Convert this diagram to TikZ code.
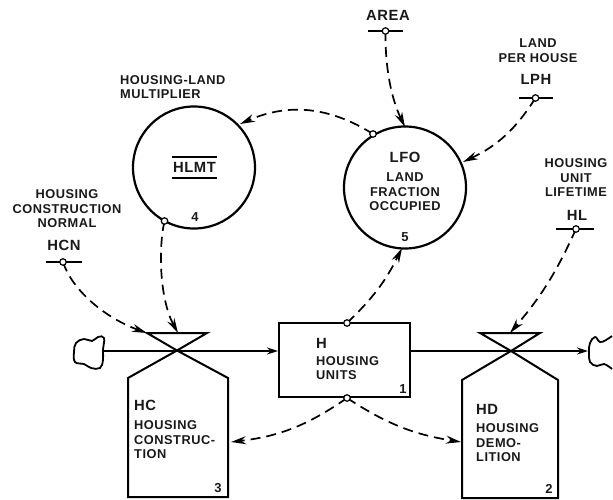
\documentclass[tikz,border=0pt]{standalone}
\usepackage{fontspec}
\setmainfont[LetterSpace=4]{Liberation Sans}
\usetikzlibrary{arrows.meta,calc}
\tikzset{
  lbl/.style={font=\bfseries\fontsize{12.8}{14.5}\selectfont,inner sep=0pt,text=black!90},
  lblc/.style={lbl,align=center},
  lbll/.style={lbl,align=left,anchor=west},
  sym/.style={font=\bfseries\fontsize{14.8}{15}\selectfont,inner sep=0pt,text=black!90},
  num/.style={font=\bfseries\fontsize{13}{13}\selectfont,inner sep=0pt,text=black!90},
  auxc/.style={circle,draw,line width=2.2pt,minimum size=122pt,inner sep=0pt},
  lev/.style={draw,line width=2pt,inner sep=0pt},
  body/.style={line width=2pt,line join=miter},
  flow/.style={line width=1.5pt,-{Stealth[length=11pt,width=7pt]}},
  infl/.style={line width=1.7pt,dash pattern=on 10pt off 6pt,-{Stealth[length=15pt,width=8pt]}},
  tapd/.style={circle,draw,line width=1.2pt,fill=white,minimum size=6.5pt,inner sep=0pt},
  bar/.style={line width=1.5pt}
}
\begin{document}
\begin{tikzpicture}[x=1pt,y=-1pt]
\useasboundingbox (0,0) rectangle (613,500);
% circles and level
\node[auxc] (hlmt) at (194,167.5) {};
\node[auxc] (lfo) at (405,187.5) {};
\node[lev,minimum width=131pt,minimum height=74pt] (h) at (344.5,360) {};
% valves and rate bodies
\coordinate (v1) at (177,350.5);
\coordinate (v2) at (511,351);
\coordinate (v1t) at (178,333);
\coordinate (v1tl) at (147,333);
\coordinate (v2t) at (510,333);
\draw[body] (147,333) -- (207,333) -- (v1) -- (228,378) -- (228,497) -- (128,497) -- (128,378) -- (v1) -- cycle;
\draw[body] (480,333) -- (540,333) -- (v2) -- (558,380) -- (558,498) -- (462,498) -- (462,380) -- (v2) -- cycle;
% clouds
\draw[line width=1.8pt] plot[smooth cycle,tension=.7] coordinates {(104,338) (98,337) (92,341) (84,339) (76,343) (74,352) (75,362) (84,364) (91,368) (100,368) (103,360) (103,350)};
\draw[line width=1.8pt] plot[smooth,tension=.7] coordinates {(612,336) (606,340) (600,342) (595,337) (590,343) (589,352) (590,362) (597,366) (604,364) (612,369)};
\coordinate (c1) at (104,351);
\coordinate (c2) at (588,351);
% flows
\draw[flow] (c1) -- (h.west |- c1);
\draw[flow] (h.east |- v2) -- (c2);
% constants
\coordinate (area) at (385.5,31);
\coordinate (lph) at (535.5,98);
\coordinate (hl) at (576,229);
\coordinate (hcn) at (63,262);
\draw[bar] (368,31) -- (403,31);
\draw[bar] (519,98) -- (553,98);
\draw[bar] (556,229) -- (594,229);
\draw[bar] (46,262) -- (82,262);
% taps
\coordinate (t1) at (373,134);
\coordinate (t2) at (164.5,221);
\coordinate (t3) at (347,323);
\coordinate (t4) at (347,398);
% influences
\draw[infl] (area) .. controls (385,70) and (392,100) .. (405,127);
\draw[infl] (lph) to[bend left=16] (463,162);
\draw[infl] (hl) to[bend left=8] (v2t);
\draw[infl] (hcn) .. controls (72,290) and (105,318) .. (v1tl);
\draw[infl] (t2) .. controls (158,250) and (160,300) .. (v1t);
\draw[infl] (t1) to[bend right=28] (240,124);
\draw[infl] (t3) to[bend right=10] (402,248);
\draw[infl] (t4) to[bend left=14] (231,442);
\draw[infl] (t4) to[bend right=12] (461,442);
% small circles
\foreach \n in {area,lph,hl,hcn,t1,t2,t3,t4} \node[tapd] (\n o) at (\n) {};
% labels
\node[lbll] (hlml) at (120,87) {HOUSING-LAND\\MULTIPLIER};
\node[lblc] (hcnl) at (67,209) {HOUSING\\CONSTRUCTION\\NORMAL};
\node[sym] (hcns) at (64,245) {HCN};
\node[sym] (areal) at (388,15) {AREA};
\node[lblc] (lphl) at (538,50.5) {LAND\\PER HOUSE};
\node[sym] (lphs) at (536,79) {LPH};
\node[lblc] (hll) at (576,178) {HOUSING\\UNIT\\LIFETIME};
\node[sym] (hls) at (577,215) {HL};
\node[sym] (hlmts) at (194.5,167.5) {HLMT};
\draw[bar] (172,157) -- (217,157) (172,178) -- (217,178);
\node[num] (n4) at (195,217) {4};
\node[sym] (lfos) at (405,157) {LFO};
\node[lblc] (lfol) at (405,192) {LAND\\FRACTION\\OCCUPIED};
\node[num] (n5) at (405,237) {5};
\node[sym,anchor=west] (hs) at (316,343) {H};
\node[lbll] (hl2) at (316,368) {HOUSING\\UNITS};
\node[num] (n1) at (403,389) {1};
\node[sym,anchor=west] (hcs) at (134,405) {HC};
\node[lbll] (hcl) at (134,440) {HOUSING\\CONSTRUC-\\TION};
\node[num] (n3) at (218,488) {3};
\node[sym,anchor=west] (hds) at (476,409) {HD};
\node[lbll] (hdl) at (476,443) {HOUSING\\DEMO-\\LITION};
\node[num] (n2) at (549,489) {2};
\end{tikzpicture}
\end{document}
